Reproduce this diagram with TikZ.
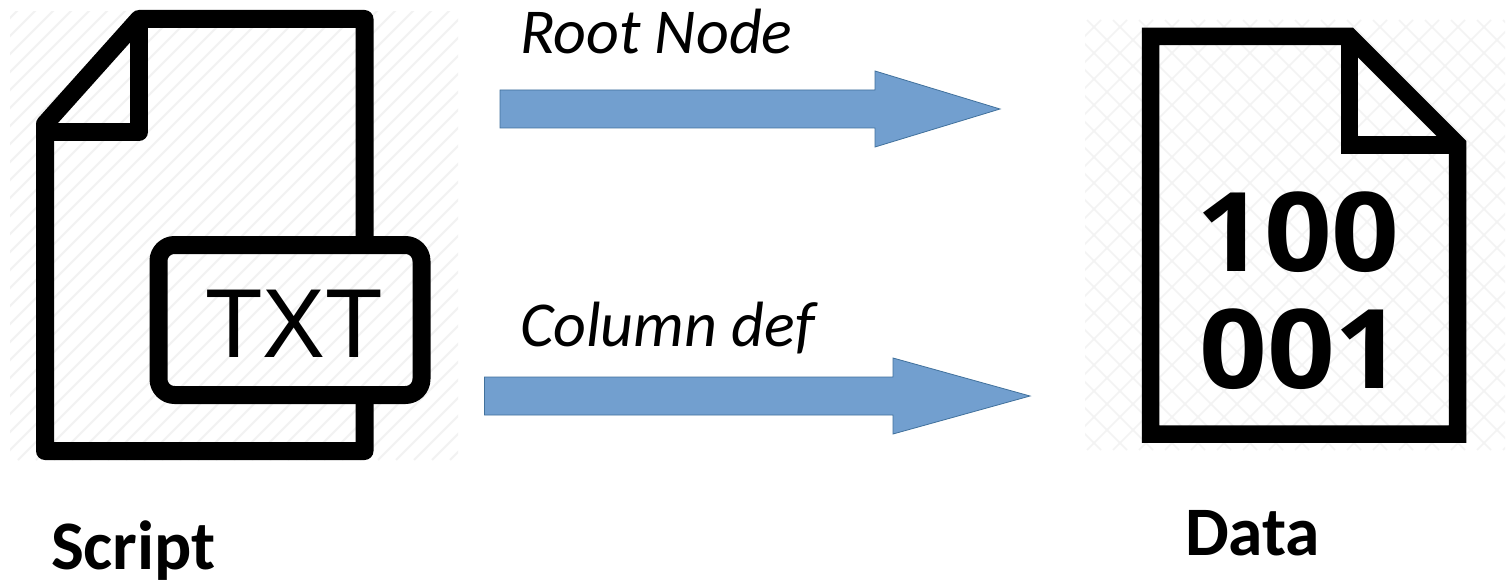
\documentclass[tikz,border=0pt]{standalone}
\usepackage{fontspec}
\setmainfont{Carlito}
\newfontfamily\iconsans{Liberation Sans}
\newfontfamily\icondigits{Open Sans}
\definecolor{arrowfill}{HTML}{729FCF}
\definecolor{arrowedge}{HTML}{41719C}
\definecolor{hatchA}{HTML}{F2F2F2}
\definecolor{hatchB}{HTML}{F3F3F3}
\tikzset{
  blockarrow/.style={fill=arrowfill,draw=arrowedge,line width=0.8pt,line join=miter},
  iconline/.style={draw=black,line width=18pt,line join=round,line cap=butt},
  dataline/.style={draw=black,line width=17.5pt,line join=miter,line cap=butt},
  hatchline/.style={line width=2pt,draw=hatchA},
  crossline/.style={line width=1.6pt,draw=hatchB},
  tag/.style={anchor=base west,inner sep=0pt,outer sep=0pt,text=black},
  itlabel/.style={tag,font=\fontsize{64}{70}\selectfont\itshape},
  bflabel/.style={tag,font=\fontsize{69.5}{75}\selectfont\bfseries},
  digits/.style={anchor=base west,inner sep=0pt,xscale=1.08,font=\fontsize{110}{120}\icondigits\bfseries\selectfont}
}
\begin{document}
\begin{tikzpicture}[x=1pt,y=-1pt]
\useasboundingbox (0,0) rectangle (1507,583);
\fill[white] (0,0) rectangle (1507,583);
% hatch behind the script icon
\begin{scope}
\clip (10,12) rectangle (458,460);
\foreach \s in {-450,-432,...,470} \draw[hatchline] (\s,460) -- (\s+450,10);
\end{scope}
% hatch behind the data icon
\begin{scope}
\clip (1085,20) rectangle (1505,450);
\foreach \s in {-440,-414,...,430} {
  \draw[crossline] (1085+\s,450) -- (1515+\s,20);
  \draw[crossline] (1085+\s,20) -- (1515+\s,450);
}
\end{scope}
% script icon
\draw[iconline] (364.5,245) -- (364.5,19) -- (139,19) -- (45,124) -- (45,451) -- (364.5,451) -- (364.5,395);
\draw[iconline] (139,19) -- (139,132) -- (45,132);
\draw[iconline,rounded corners=16pt] (158.5,245) rectangle (421.5,395);
\node[anchor=base west,inner sep=0pt,xscale=0.96,font=\fontsize{98}{100}\iconsans\selectfont] (txt) at (205,357) {TXT};
% data icon
\draw[dataline] (1150.5,36.5) -- (1349.5,36.5) -- (1457.5,144.5) -- (1457.5,434) -- (1150.5,434) -- cycle;
\draw[dataline] (1349.5,36.5) -- (1349.5,145) -- (1457.5,145);
\node[digits] (binA) at (1196,271) {100};
\node[digits] (binB) at (1199,388) {001};
% arrows
\draw[blockarrow] (500,90) -- (875,90) -- (875,71) -- (1000,109) -- (875,147) -- (875,128) -- (500,128) -- cycle;
\draw[blockarrow] (484.5,377) -- (893,377) -- (893,358) -- (1030,396) -- (893,434) -- (893,415) -- (484.5,415) -- cycle;
% labels
\node[itlabel] (root) at (520,53.5) {Root Node};
\node[itlabel] (col) at (520,346) {Column def};
\node[bflabel] (script) at (51,569) {Script};
\node[bflabel] (data) at (1185,555) {Data};
\end{tikzpicture}
\end{document}
